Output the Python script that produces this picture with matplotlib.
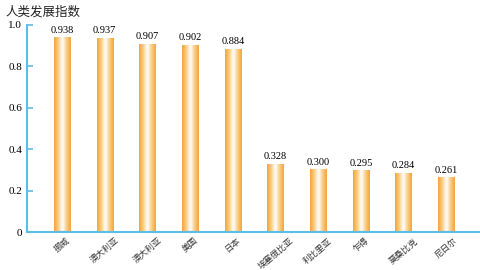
import numpy as np
import matplotlib
matplotlib.use("Agg")
import matplotlib.pyplot as plt
from matplotlib.colors import LinearSegmentedColormap

plt.rcParams['font.family'] = ['Noto Sans CJK SC', 'DejaVu Sans']

countries = ["挪威", "澳大利亚", "澳大利亚", "美国", "日本",
             "埃塞俄比亚", "利比里亚", "乍得", "莫桑比克", "尼日尔"]
hdi = [0.938, 0.937, 0.907, 0.902, 0.884, 0.328, 0.300, 0.295, 0.284, 0.261]
yticks = [0, 0.2, 0.4, 0.6, 0.8, 1.0]
ytick_labels = ["0", "0.2", "0.4", "0.6", "0.8", "1.0"]

blue = "#5bbde8"
cmap = LinearSegmentedColormap.from_list(
    "bar", ["#f5a536", "#fbcd85", "#ffffff", "#fbcd85", "#f5a536"])

fig = plt.figure(figsize=(4.8, 2.7), dpi=100)
ax = fig.add_axes([27/480, 1-232/270, 1-27/480, (232-25)/270])

x = np.arange(len(countries))
w = 0.38
bars = ax.bar(x, hdi, width=w, color="none")
grad = np.linspace(0, 1, 64).reshape(1, -1)
for b, v in zip(bars, hdi):
    x0 = b.get_x()
    ax.imshow(grad, cmap=cmap, aspect="auto",
              extent=[x0, x0 + w, 0, v], zorder=2)
    ax.text(b.get_x() + w/2, v + 0.015, f"{v:.3f}", ha="center", va="bottom",
            fontsize=7.5, family="Liberation Serif")

ax.set_xlim(-0.82, 9.79)
ax.set_ylim(0, 1.0)
ax.set_xticks(x)
ax.set_xticklabels(countries, rotation=40, ha="center", va="top",
                   fontsize=6.2, color="#333333")
ax.tick_params(axis="x", length=0, pad=3)
ax.set_yticks(yticks)
ax.set_yticklabels(ytick_labels, family="Liberation Serif", fontsize=8)
ax.tick_params(axis="y", direction="in", length=4, width=1.2, color=blue)

for s in ["top", "right"]:
    ax.spines[s].set_visible(False)
for s in ["left", "bottom"]:
    ax.spines[s].set_color(blue)
    ax.spines[s].set_linewidth(1.5)

fig.text(5/480, 1-12/270, "人类发展指数", fontsize=9, va="center", ha="left",
         color="#222222")

fig.savefig("out.png", dpi=100)
